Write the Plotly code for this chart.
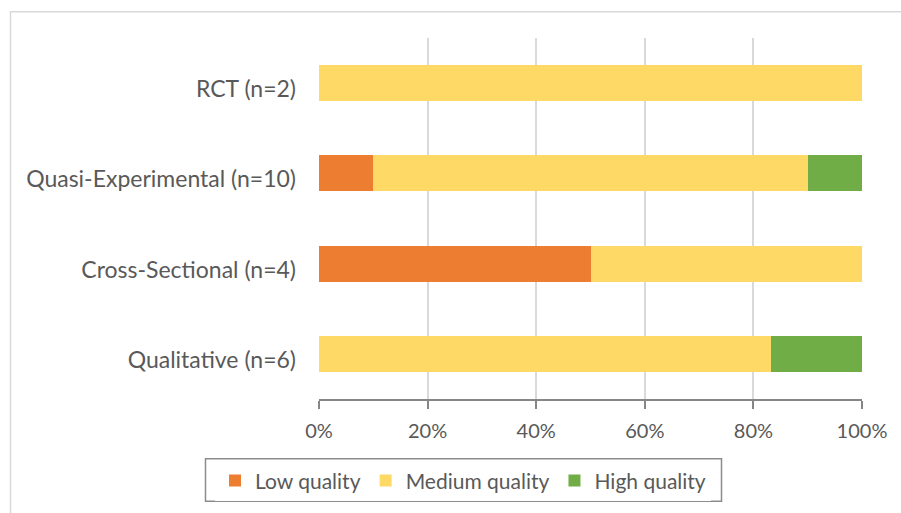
import plotly.graph_objects as go

categories = ["Qualitative (n=6)", "Cross-Sectional (n=4)", "Quasi-Experimental (n=10)", "RCT (n=2)"]
low = [0, 50, 10, 0]
medium = [83.33, 50, 80, 100]
high = [16.67, 0, 10, 0]
tick_vals = [0, 20, 40, 60, 80, 100]
tick_text = ["0%", "20%", "40%", "60%", "80%", "100%"]

W, H = 901, 513
L, R, T, B = 319, 862, 38, 403
pw, ph = R - L, B - T

font = "Lato"
tc = "#595959"

fig = go.Figure()
for name, vals, col in [("Low quality", low, "#ED7D31"),
                        ("Medium quality", medium, "#FFD966"),
                        ("High quality", high, "#70AD47")]:
    fig.add_trace(go.Bar(y=categories, x=vals, name=name, orientation="h",
                         marker=dict(color=col, line=dict(width=0))))

fig.update_layout(
    width=W, height=H, barmode="stack", bargap=0.6,
    margin=dict(l=L, r=W - R, t=T, b=H - B),
    paper_bgcolor="white", plot_bgcolor="white",
    font=dict(family=font, size=19, color=tc),
    xaxis=dict(range=[0, 100], tickvals=tick_vals, ticktext=tick_text,
               showgrid=True, gridcolor="#d9d9d9", gridwidth=2,
               showline=True, linecolor="#868686", linewidth=1.5,
               ticks="outside", ticklen=8, tickcolor="#868686", tickwidth=1.5,
               ticklabelstandoff=5,
               zeroline=False, tickfont=dict(size=20, color=tc)),
    yaxis=dict(showgrid=False, zeroline=False, ticks="", ticklabelstandoff=22,
               ticklabelshift=6,
               tickfont=dict(size=23, color=tc)),
    legend=dict(orientation="h", x=(463 - L) / pw, xanchor="center",
                y=(B - 465) / ph, yanchor="top",
                borderwidth=0,
                font=dict(size=21, color=tc), traceorder="normal"),
    showlegend=True,
)
# outer chart frame
fig.add_shape(type="rect", xref="paper", yref="paper",
              x0=(10.5 - L) / pw, x1=(910 - L) / pw,
              y0=(B - 530) / ph, y1=(B - 11.5) / ph,
              line=dict(color="#d9d9d9", width=1.5), layer="below")
# legend frame
fig.add_shape(type="rect", xref="paper", yref="paper",
              x0=(205.5 - L) / pw, x1=(721.5 - L) / pw,
              y0=(B - 506.5) / ph, y1=(B - 463.5) / ph,
              line=dict(color="#8c8c8c", width=1.5), layer="above")

fig.write_html("out.html")
